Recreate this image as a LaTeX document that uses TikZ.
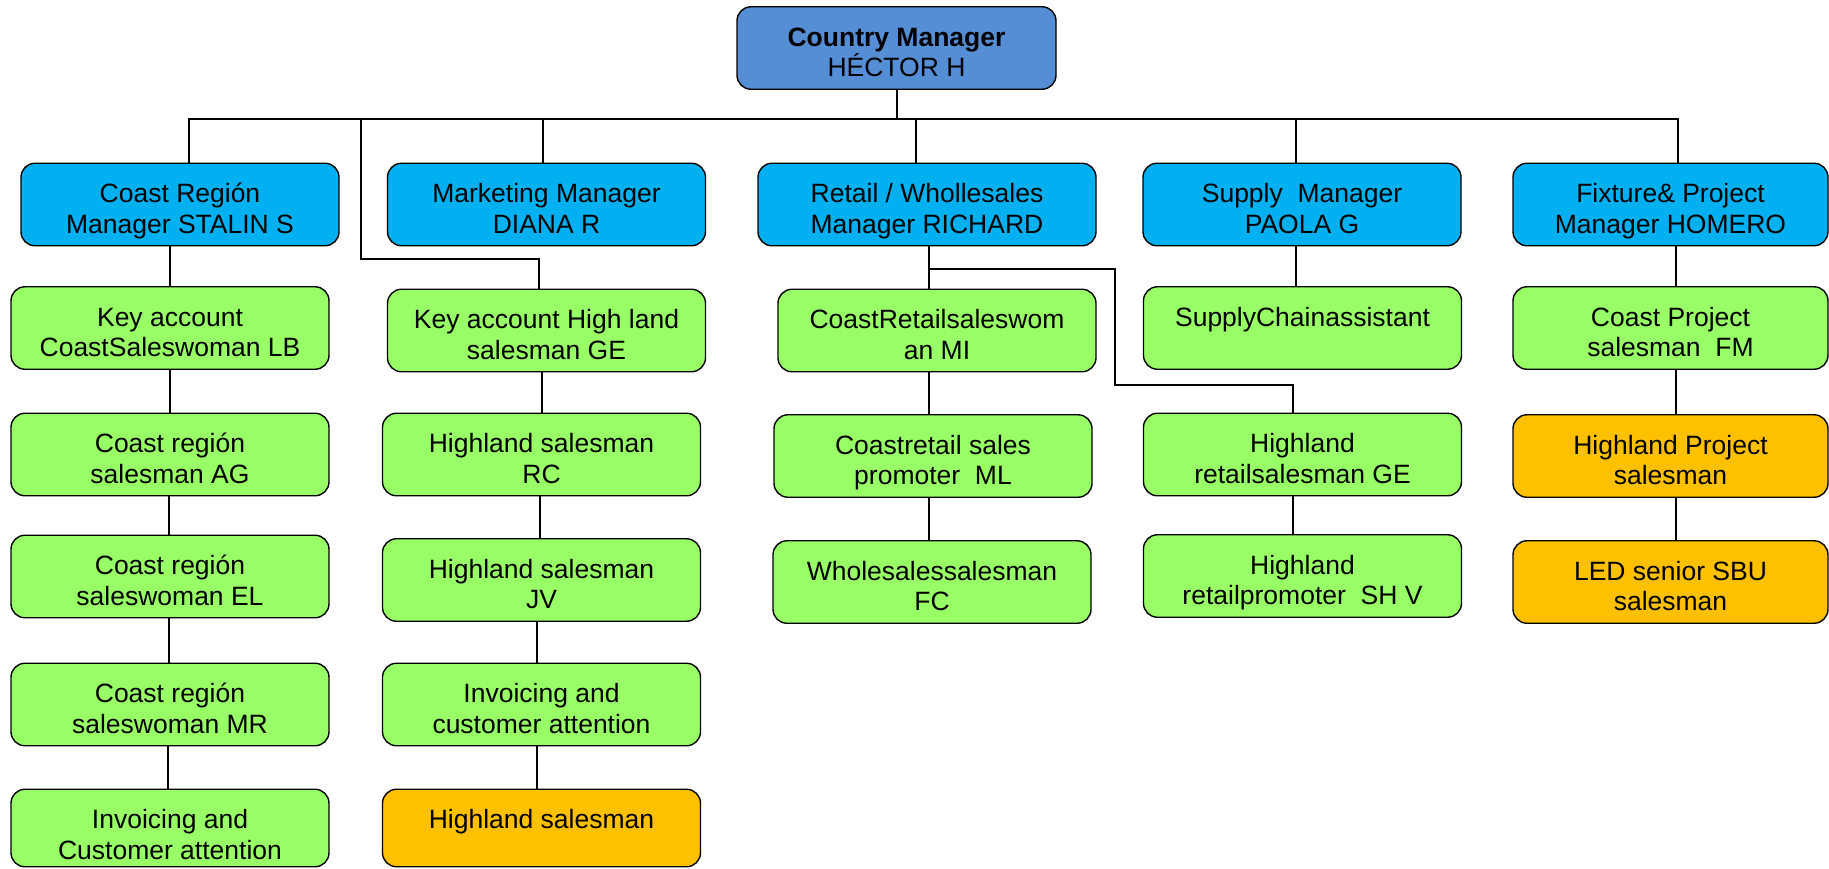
\documentclass[tikz,border=0pt]{standalone}
\usepackage{fontspec}
\setmainfont{Liberation Sans}
\usepackage{tikz}
\usetikzlibrary{calc}
\definecolor{topblue}{HTML}{558ED5}
\definecolor{skyblue}{HTML}{00B0F0}
\definecolor{lime}{HTML}{99FF66}
\definecolor{gold}{HTML}{FFC000}

\begin{document}
\begin{tikzpicture}[x=1pt,y=-1pt,
    orgbox/.style={draw,line width=1.4pt,rounded corners=14pt,minimum width=318pt,
      inner sep=0pt,text height=70pt,text depth=12.5pt,align=center,
      font=\fontsize{26.5}{30.5}\selectfont},
    oneline/.style={text height=39.5pt,text depth=43pt},
    lastrow/.style={text depth=7.5pt},
    link/.style={line width=1.2pt}]
  \useasboundingbox (0,0) rectangle (1829,868);
  % top of the chart
  \node[orgbox,fill=topblue,minimum width=319] (cm) at (896.5,48)
    {\textbf{Country Manager}\\HÉCTOR H};
  % managers
  \foreach \x/\w/\nm/\txt in {180/318/mcoast/{Coast Región\\Manager STALIN S},
      546.5/318/mmkt/{Marketing Manager\\DIANA R},
      927/338/mret/{Retail / Whollesales\\Manager RICHARD},
      1302/318/msup/{Supply~~Manager\\PAOLA G},
      1670.5/315/mfix/{Fixture\& Project\\Manager HOMERO}}
    \node[orgbox,fill=skyblue,minimum width=\w] (\nm) at (\x,204.5) {\txt};
  % staff
  \foreach \x/\y/\nm/\clr/\txt in {170/328/c1/lime/{Key account\\CoastSaleswoman LB},
      170/454.5/c2/lime/{Coast región\\salesman AG},
      170/576.5/c3/lime/{Coast región\\saleswoman EL},
      170/704.5/c4/lime/{Coast región\\saleswoman MR},
      546.5/330.5/m1/lime/{Key account High land\\salesman GE},
      541.5/454.5/m2/lime/{Highland salesman\\RC},
      541.5/580/m3/lime/{Highland salesman\\JV},
      541.5/704.5/m4/lime/{Invoicing and\\customer attention},
      937/330.5/r1/lime/{CoastRetailsaleswom\\an MI},
      933/456/r2/lime/{Coastretail sales\\promoter~~ML},
      932/582/r3/lime/{Wholesalessalesman\\FC},
      1302.5/454.5/s2/lime/{Highland\\retailsalesman GE},
      1302.5/576/s3/lime/{Highland\\retailpromoter~~SH V}}
    \node[orgbox,fill=\clr] (\nm) at (\x,\y) {\txt};
  \node[orgbox,oneline,fill=lime] (s1) at (1302.5,328) {SupplyChainassistant};
  \foreach \y/\nm/\clr/\txt in {328/f1/lime/{Coast Project\\salesman~~FM},
      456/f2/gold/{Highland Project\\salesman},
      582/f3/gold/{LED senior SBU\\salesman}}
    \node[orgbox,fill=\clr,minimum width=315] (\nm) at (1670.5,\y) {\txt};
  \node[orgbox,lastrow,fill=lime] (c5) at (170,828) {Invoicing and\\Customer attention};
  \node[orgbox,oneline,lastrow,text depth=38pt,fill=gold] (m5) at (541.5,828) {Highland salesman};

  % lines
  \coordinate (bus) at (897,119);
  \coordinate (mktjog) at (361,259);
  \coordinate (rjog) at (929,269);
  \coordinate (rjog2) at (1115,385);
  \draw[link] (bus |- cm.south) -- (bus);
  \foreach \nm/\dx in {mcoast/9,mmkt/-3.5,mret/-11,msup/-6,mfix/7.5}
    \draw[link] (bus) -| ([xshift=\dx]\nm.north);
  \draw[link] (bus) -| (mktjog) -| ([xshift=-7.5]m1.north);
  \draw[link] (rjog) -| (rjog2) -| ([xshift=-9.5]s2.north);
  \foreach \a/\b/\dx in {mcoast/c1/0,c1/c2/0,c2/c3/-1,c3/c4/-1,c4/c5/-2,
      m1/m2/0.5,m2/m3/-1.5,m3/m4/-4.5,m4/m5/-4.5,
      mret/r1/-8,r1/r2/-4,r2/r3/-3,
      msup/s1/-6.5,s2/s3/-9.5,
      mfix/f1/5.5,f1/f2/5.5,f2/f3/5.5}
    \draw[link] ([xshift=\dx]\a.south -| \b.north) -- ([xshift=\dx]\b.north);
\end{tikzpicture}
\end{document}
